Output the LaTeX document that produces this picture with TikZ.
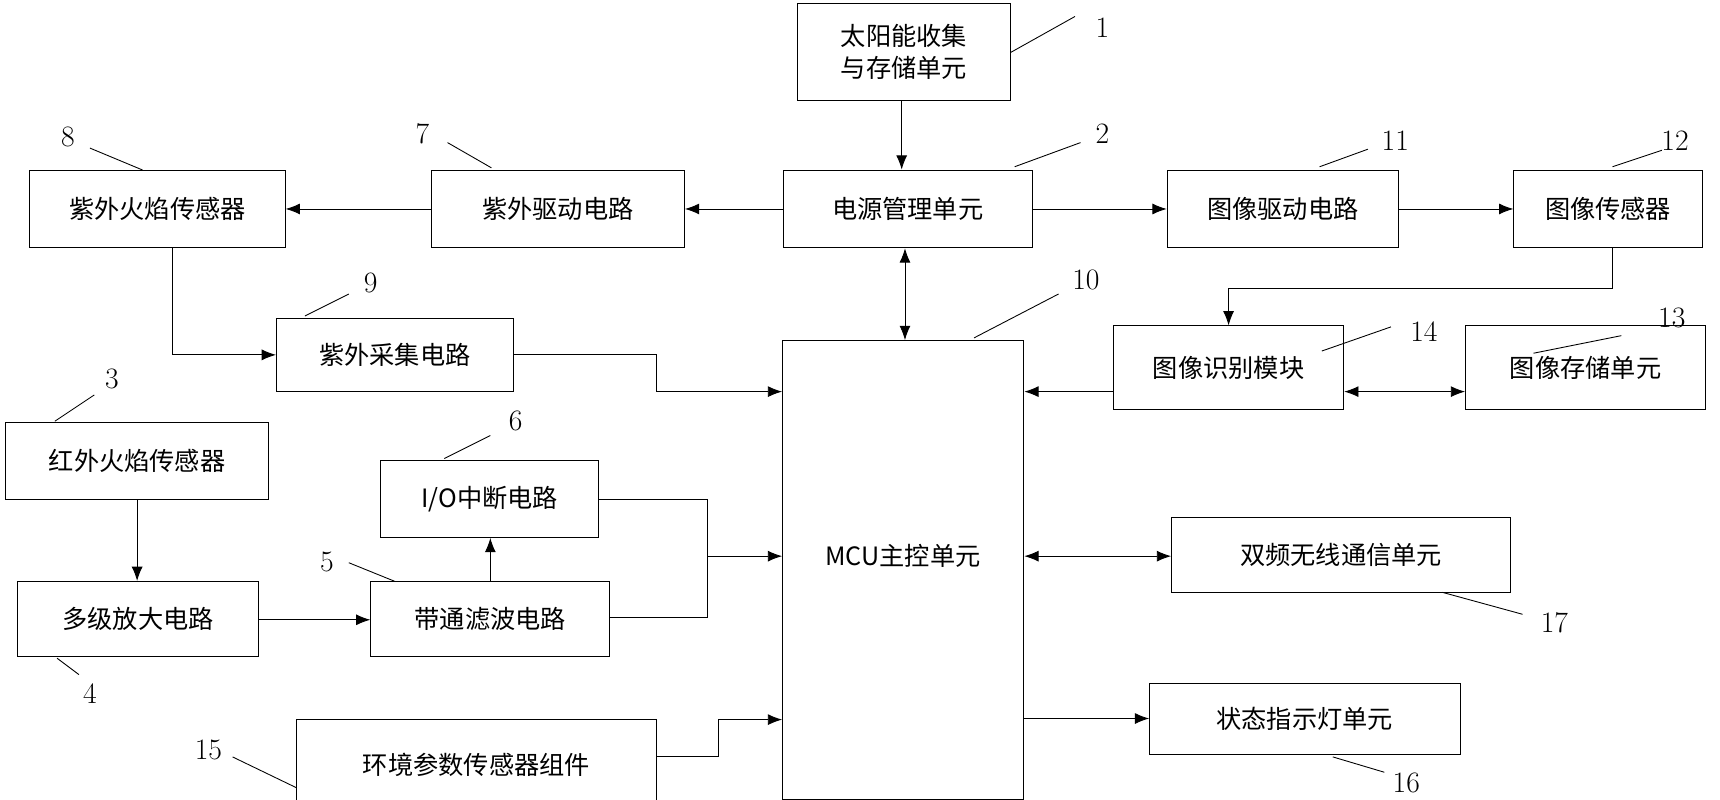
\documentclass[tikz,border=0pt]{standalone}
\usepackage{fontspec}
\newfontfamily\cjk{Noto Sans CJK SC}
\usetikzlibrary{arrows.meta}
\begin{document}
\begin{tikzpicture}[x=1pt,y=-1pt,
  txt/.style={font=\cjk\fontsize{23}{29}\selectfont,inner sep=0pt,align=center},
  box/.style={txt,draw,line width=0.8pt},
  num/.style={font=\fontsize{27}{27}\selectfont},
  ar/.style={line width=0.8pt,-{Latex[length=13pt,width=10pt]}},
  dar/.style={line width=0.8pt,{Latex[length=13pt,width=10pt]}-{Latex[length=13pt,width=10pt]}},
  ln/.style={line width=0.8pt}]
\useasboundingbox (0,0) rectangle (1568,729);
\newcommand{\bx}[6]{\node[box,minimum width=#4-#2,minimum height=#5-#3] (#1) at ({(#2+#4)/2},{(#3+#5)/2}) {#6};}
\bx{b1}{727}{3}{921}{92}{太阳能收集\\与存储单元}
\bx{b2}{714}{155}{941}{226}{电源管理单元}
\bx{b7}{393}{155}{624}{226}{紫外驱动电路}
\bx{b8}{27}{155}{260}{226}{紫外火焰传感器}
\bx{b11}{1064}{155}{1275}{226}{图像驱动电路}
\bx{b12}{1380}{155}{1552}{226}{图像传感器}
\bx{b9}{252}{290}{468}{357}{紫外采集电路}
\node[box,minimum width=220,minimum height=418,anchor=north west] (b10) at (713,310) {};
\node[txt] (t10) at (823,507) {MCU主控单元};
\bx{b14}{1015}{297}{1225}{373}{图像识别模块}
\bx{b13}{1336}{297}{1555}{373}{图像存储单元}
\bx{b3}{5}{385}{245}{455}{红外火焰传感器}
\bx{b6}{347}{420}{546}{490}{I/O中断电路}
\bx{b4}{16}{530}{236}{598}{多级放大电路}
\bx{b5}{338}{530}{556}{598}{带通滤波电路}
\bx{b17}{1068}{472}{1377}{540}{双频无线通信单元}
\bx{b16}{1048}{623}{1331}{688}{状态指示灯单元}
\node[box,minimum width=328,minimum height=90,anchor=north west] (b15) at (270,655) {\raisebox{8pt}{环境参数传感器组件}};
% numbers
\node[num] (n1) at (1005,25) {1};
\node[num] (n2) at (1005,122) {2};
\node[num] (n7) at (385,122) {7};
\node[num] (n8) at (62,125) {8};
\node[num] (n11) at (1272,128) {11};
\node[num] (n12) at (1527,128) {12};
\node[num] (n9) at (338,258) {9};
\node[num] (n10) at (990,255) {10};
\node[num] (n14) at (1298,302) {14};
\node[num] (n13) at (1524,290) {13};
\node[num] (n3) at (102,345) {3};
\node[num] (n6) at (470,384) {6};
\node[num] (n4) at (82,632) {4};
\node[num] (n5) at (298,512) {5};
\node[num] (n17) at (1417,568) {17};
\node[num] (n16) at (1282,714) {16};
\node[num] (n15) at (190,684) {15};
% leaders
\draw[ln] (921,48) -- (980,15);
\draw[ln] (925,152) -- (985,130);
\draw[ln] (408,130) -- (448,153);
\draw[ln] (82,135) -- (130,155);
\draw[ln] (1203,152) -- (1247,136);
\draw[ln] (1470,152) -- (1515,137);
\draw[ln] (278,288) -- (318,268);
\draw[ln] (888,308) -- (965,268);
\draw[ln] (1205,320) -- (1268,298);
\draw[ln] (1398,322) -- (1478,306);
\draw[ln] (50,384) -- (86,360);
\draw[ln] (405,418) -- (447,397);
\draw[ln] (52,600) -- (72,615);
\draw[ln] (318,513) -- (360,530);
\draw[ln] (1315,540) -- (1388,560);
\draw[ln] (1215,690) -- (1262,704);
\draw[ln] (212,690) -- (270,718);
% connectors
\draw[ar] (b1.south -| 822,0) -- (b2.north -| 822,0);
\draw[ar] (b2.west) -- (b7.east);
\draw[ar] (b7.west) -- (b8.east);
\draw[ar] (b2.east) -- (b11.west);
\draw[ar] (b11.east) -- (b12.west);
\draw[dar] (b2.south -| 825,0) -- (b10.north -| 825,0);
\draw[ar] (b8.south -| 157,0) |- (b9.west);
\draw[ar] (b9.east) -| (598,357) -- (b10.west |- 0,357);
\draw[ar] (b12.south -| 1470,0) |- (1120,263) -- (b14.north -| 1120,0);
\draw[ar] (b14.west |- 0,357) -- (b10.east |- 0,357);
\draw[dar] (b14.east |- 0,357) -- (b13.west |- 0,357);
\draw[ar] (b3.south -| 125,0) -- (b4.north -| 125,0);
\draw[ar] (b4.east |- 0,565) -- (b5.west |- 0,565);
\draw[ar] (b5.north -| 447,0) -- (b6.south -| 447,0);
\draw[ln] (b6.east |- 0,455) -| (645,507);
\draw[ln] (b5.east |- 0,563) -| (645,507);
\draw[ar] (645,507) -- (b10.west |- 0,507);
\draw[dar] (b10.east |- 0,507) -- (b17.west |- 0,507);
\draw[ar] (b10.east |- 0,655) -- (b16.west |- 0,655);
\draw[ar] (b15.east |- 0,690) -| (655,656) -- (b10.west |- 0,656);
\end{tikzpicture}
\end{document}
